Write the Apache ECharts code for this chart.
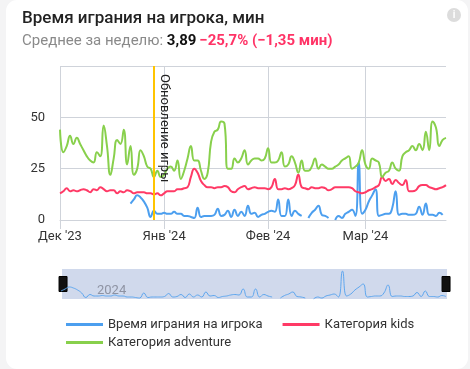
<!DOCTYPE html>
<html>
<head>
<meta charset="utf-8">
<script src="https://cdn.jsdelivr.net/npm/echarts@6/dist/echarts.min.js"></script>
<style>
  html, body { margin: 0; padding: 0; background: #f4f4f5; }
  #chart { width: 470px; height: 369px; }
</style>
</head>
<body>
<div id="chart"></div>
<script>
// ---- data ----
const titleText = 'Время играния на игрока, мин';
const subLabel = 'Среднее за неделю: ';
const subValue = '3,89';
const subDelta = '−25,7% (−1,35 мин)';

const seriesNames = ['Время играния на игрока', 'Категория kids', 'Категория adventure'];
const seriesColors = ['#4c9fef', '#ff3a66', '#88d04c'];

const xMin = '2023-12-01';
const xMax = '2024-03-25';
const monthTicks = ['2023-12-01', '2024-01-01', '2024-02-01', '2024-03-01'];
const monthLabels = ["Дек '23", "Янв '24", "Фев '24", "Мар '24"];
const yTicks = [0, 25, 50, 75];
const yLabels = ['0', '25', '50', ''];

const updateDate = '2023-12-29';
const updateLabel = 'Обновление игры';
const zoomYearLabel = '2024';

// daily values
const playtimeStart = '2023-12-22';
const playtime = [8, 10, 12, 11, 9, 6, 1.5, 4.5, 3, 3, 3.5, 3, 3, 4, 3, 3, 2, 2, 1.5, 1,
  6, 1.5, 2, 2, 2, 2.5, 5.5, 2, 2.5, 4.5, 1.5, 5, 2, 4, 2, 7, 3, 3.5, 1.5, 2.5,
  3, 4, 4.5, 4, 10, 2, 2, 10, 2, 4.5, 3, 2, null, 1, 3.5, 5, 7, 2.5, 2, 1,
  null, 0, 2, 1, 3, 4, 5, 2, 28, 3, 5, 9, 12, 15, 2, 2.5, 3, 3, 6, 14,
  2.5, 3, 3, 2.5, 2.5, 3, 6.5, 2.5, 8, 2.5, 2.5, 2, 3.5, 2.5];

const kidsStart = '2023-12-01';
const kids = [13, 14, 15.5, 14, 14.5, 14, 14.5, 15, 14.5, 13.5, 15, 14.5, 16, 15, 14, 14.5, 14.5, 13, 14, 13.5,
  14.5, 14, 13, 13.5, 13.5, 13.5, 13, 13, 12.5, 13, 12, 13, 14, 14, 14, 15, 15, 15.5, 16, 21,
  25, 23, 19, 17, 16, 16, 15.5, 16, 16, 16.5, 16, 14, 13.5, 15, 16, 16.5, 15, 15.5, 16, 15.5,
  15.5, 15.5, 15, 16, 20, 15, 15, 15.5, 15, 15.5, 17, 22, 16, 15.5, 15, 16, 15.5, 15.5, 16, 15.5,
  14.5, 15, 16, 16, 16, 16, 16, 15.5, 14, 13.5, 13, 13.5, 14.5, 15, 16, 17, 21, 19, 20, 17.5,
  19.5, 18, 17, 19.5, 14, 14, 14.5, 16.5, 17, 17, 16, 15.5, 15, 15.5, 16, 17];

const adventureStart = '2023-12-01';
const adventure = [44, 33, 36, 41, 37, 40, 37, 34, 31, 29, 28, 33, 31, 46, 36, 22, 30, 39, 37, 44,
  27, 36, 22, 25, 34, 31, 26, 25, 21, 24, 21, 22, 25, 26, 24, 29, 20, 24, 30, 36,
  29, 29, 24, 20, 23, 38, 43, 44, 48, 47, 25, 25, 30, 28, 30, 34, 27, 29, 30, 30,
  29, 30, 35, 28, 28, 29, 33, 26, 27, 31, 28, 23, 29, 24, 24, 26, 30, 25, 27, 26,
  25, 25, 26, 27, 29, 30, 31, 25, 26, 28, 34, 27, 25, 30, 29, 28, 21, 23, 24, 28,
  25, 24, 31, 33, 34, 36, 34, 37, 34, 43, 34, 48, 45, 36, 39, 40];

// ---- build ----
function ts(s) { return +echarts.time.parse(s); }
function daily(start, values) {
  const d0 = echarts.time.parse(start);
  return values.map((v, i) => [+new Date(d0.getFullYear(), d0.getMonth(), d0.getDate() + i), v]);
}

const font = 'Roboto, "Noto Sans", Arial, sans-serif';
const gridColor = '#cfd3da';
const monthTickTs = monthTicks.map(ts);
const playtimeData = daily(playtimeStart, playtime);

const chart = echarts.init(document.getElementById('chart'), null, { renderer: 'canvas' });

const lineSeries = (name, color, data, extra) => Object.assign({
  name, type: 'line', data, smooth: true, showSymbol: false, symbol: 'none',
  lineStyle: { width: 2, color }, itemStyle: { color },
  emphasis: { disabled: true }
}, extra || {});

chart.setOption({
  backgroundColor: 'transparent',
  animation: false,
  textStyle: { fontFamily: font },
  title: {
    left: 17, top: 5,
    text: titleText,
    textStyle: { fontSize: 17, fontWeight: 500, color: '#222', fontFamily: font },
    subtext: '{g|' + subLabel + '}{b|' + subValue + '} {r|' + subDelta + '}',
    itemGap: 7,
    subtextStyle: {
      fontFamily: font,
      rich: {
        g: { fontSize: 15, color: '#8a8a8a', fontFamily: font },
        b: { fontSize: 15, color: '#111', fontWeight: 'bold', fontFamily: font },
        r: { fontSize: 15, color: '#ff3366', fontWeight: 'bold', fontFamily: font }
      }
    }
  },
  graphic: [
    { type: 'rect', z: -10, silent: true, shape: { x: 6, y: 0, width: 462, height: 369, r: 11 }, style: { fill: '#ffffff' } },
    { type: 'circle', shape: { cx: 454, cy: 15, r: 7 }, style: { fill: '#dcdcdc' } },
    { type: 'text', x: 454, y: 15, style: { text: 'i', fill: '#fff', font: 'bold 10px ' + font, align: 'center', verticalAlign: 'middle' } },
    { type: 'text', x: 97, y: 291, z: 100, silent: true, style: { text: zoomYearLabel, fill: '#8e93a3', font: '13px ' + font, verticalAlign: 'middle' } }
  ],
  grid: [
    { left: 60, right: 24, top: 66, bottom: 149, containLabel: false },
    { left: 61, right: 24, top: 271, height: 28, containLabel: false }
  ],
  xAxis: [{
    type: 'value',
    min: ts(xMin), max: ts(xMax),
    axisLine: { show: true, lineStyle: { color: gridColor } },
    axisTick: { show: true, length: 9, customValues: monthTickTs, lineStyle: { color: gridColor } },
    splitLine: { show: true, lineStyle: { color: gridColor, width: 1 } },
    axisLabel: {
      customValues: monthTickTs,
      margin: 10, fontSize: 13, color: '#333', fontFamily: font,
      formatter: v => { const i = monthTickTs.indexOf(v); return i >= 0 ? monthLabels[i] : ''; }
    }
  }, {
    gridIndex: 1, type: 'value',
    min: playtimeData[0][0], max: playtimeData[playtimeData.length - 1][0],
    show: false
  }],
  yAxis: [{
    type: 'value', min: yTicks[0], max: yTicks[yTicks.length - 1], interval: yTicks[1] - yTicks[0],
    axisLine: { show: false }, axisTick: { show: false },
    splitLine: { lineStyle: { color: gridColor, width: 1 } },
    axisLabel: {
      margin: 15, fontSize: 13, color: '#333', fontFamily: font,
      formatter: v => { const i = yTicks.indexOf(v); return i >= 0 ? yLabels[i] : ''; }
    }
  }, {
    gridIndex: 1, type: 'value', min: 0, max: 'dataMax', show: false
  }],
  legend: [
    {
      data: [seriesNames[0], seriesNames[1]], left: 61, top: 313, itemGap: 20,
      icon: 'rect', itemWidth: 37, itemHeight: 3,
      textStyle: { fontSize: 13, color: '#333', fontFamily: font }
    },
    {
      data: [seriesNames[2]], left: 61, top: 331, itemGap: 20,
      icon: 'rect', itemWidth: 37, itemHeight: 3,
      textStyle: { fontSize: 13, color: '#333', fontFamily: font }
    }
  ],
  dataZoom: [{
    type: 'slider', xAxisIndex: 0, start: 0, end: 100, z: 1,
    left: 61, right: 24, top: 269, height: 30,
    backgroundColor: '#d0d9ec', fillerColor: 'rgba(0,0,0,0)', borderColor: 'transparent',
    showDetail: false, brushSelect: false, moveHandleSize: 0, showDataShadow: false,
    handleIcon: 'path://M0,0H8V15H0Z', handleSize: 15,
    handleStyle: { color: '#111', borderColor: '#000', borderWidth: 1 },
    emphasis: { handleStyle: { color: '#111', borderColor: '#000' } }
  }],
  series: [
    lineSeries(seriesNames[0], seriesColors[0], playtimeData, {
      markLine: {
        silent: true, symbol: 'none', animation: false,
        lineStyle: { color: '#ffc400', width: 2, type: 'solid' },
        label: {
          show: true, formatter: updateLabel, position: 'insideStartTop', distance: [8, 4],
          color: '#222', fontSize: 13, fontFamily: font
        },
        data: [[{ coord: [ts(updateDate), yTicks[yTicks.length - 1]] }, { coord: [ts(updateDate), yTicks[0]] }]]
      }
    }),
    lineSeries(seriesNames[1], seriesColors[1], daily(kidsStart, kids)),
    lineSeries(seriesNames[2], seriesColors[2], daily(adventureStart, adventure)),
    {
      name: seriesNames[0] + ' (обзор)', type: 'line', xAxisIndex: 1, yAxisIndex: 1, z: 10,
      data: playtimeData, smooth: true, showSymbol: false, symbol: 'none', silent: true,
      lineStyle: { width: 1, color: '#5ea6ee' }, emphasis: { disabled: true }, legendHoverLink: false
    }
  ]
});
</script>
</body>
</html>
